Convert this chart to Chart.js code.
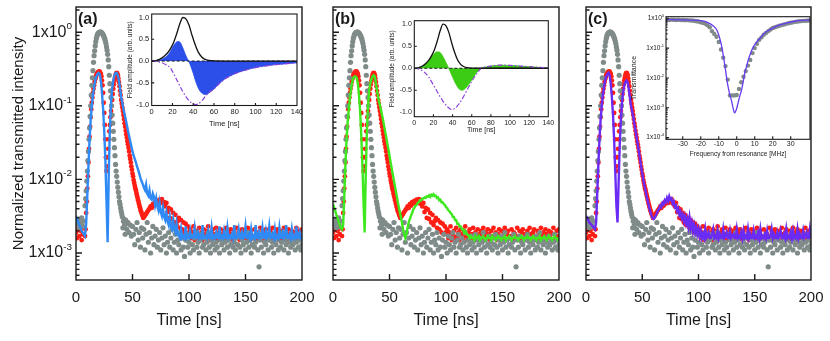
<!DOCTYPE html>
<html lang="en">
<head>
<meta charset="UTF-8">
<title>Transmitted intensity</title>
<script src="https://cdn.jsdelivr.net/npm/chart.js@4.4.0/dist/chart.umd.min.js"></script>
<style>
  body { margin: 0; background: #fff; }
  #wrap { position: relative; width: 830px; height: 341px; overflow: hidden; }
  #wrap canvas { position: absolute; }
</style>
</head>
<body>
<div id="wrap"></div>
<script>
// ---- main panels: 1 ns sampling, t = 0..200 ----
const grayY = [
  .0027,.0024,.0029,.0022,.0026,.0030,.0023,.0027,.0044,.0070,
  .013,.024,.05,.10,.19,.30,.48,.65,.82,.93,
  .98,1.0,1.0,.97,.92,.85,.76,.63,.50,.34,
  .20,.13,.075,.045,.027,.016,.011,.0078,.0058,.0046,
  .0037,.0031,.0027,.0024,.0028,.0021,.0026,.0019,.0024,.0017,
  .0023,.0018,.0013,.0021,.0026,.0015,.0019,.0012,.0022,.0016,
  .0021,.0011,.0018,.0026,.0014,.0019,.0010,.0016,.0023,.0013,
  .0017,.0021,.0012,.0015,.0019,.0011,.0016,.0022,.0013,.0017,
  .0010,.0014,.0019,.0012,.0016,.0021,.0011,.0014,.0018,.0010,
  .0015,.0013,.0019,.0011,.0016,.0012,.0009,.0015,.0018,.0012,
  .0014,.0010,.0017,.0013,.0011,.0016,.0019,.0012,.0014,.0010,
  .0015,.0018,.0012,.0013,.0016,.0011,.0014,.0019,.0012,.0010,
  .0015,.0013,.0017,.0011,.0014,.0012,.0018,.0010,.0015,.0013,
  .0016,.0011,.0014,.0019,.0012,.0015,.0010,.0013,.0017,.0012,
  .0014,.0011,.0016,.0013,.0018,.0012,.0010,.0015,.0013,.0017,
  .0011,.0014,.0019,.0012,.0015,.0010,.0013,.0016,.0012,.0014,
  .0018,.0011,.00065,.0015,.0012,.0017,.0010,.0014,.0013,.0016,
  .0011,.0015,.0018,.0012,.0014,.0010,.0016,.0013,.0015,.0011,
  .0017,.0012,.0014,.0019,.0011,.0015,.0013,.0016,.0010,.0014,
  .0012,.0017,.0013,.0015,.0011,.0014,.0018,.0012,.0015,.0011,
  .0013
];
const redY = [
  .0019,.0016,.0021,.0017,.0020,.0015,.0018,.0022,.0017,.0035,
  .0075,.017,.038,.07,.11,.15,.19,.23,.26,.28,
  .29,.29,.27,.22,.15,.08,.035,.013,.02,.035,
  .055,.085,.12,.17,.22,.26,.28,.26,.21,.16,
  .12,.095,.075,.058,.046,.037,.03,.024,.019,.015,
  .012,.0098,.0082,.0071,.006,.0052,.0045,.0039,.0035,.0032,
  .0031,.0032,.0034,.0036,.0038,.004,.0043,.0041,.0046,.0044,
  .0049,.0047,.0051,.0048,.0053,.005,.0054,.0047,.0049,.0043,
  .0048,.0036,.0041,.0030,.0039,.0029,.0035,.0026,.0033,.0024,
  .0027,.0030,.0022,.0028,.0021,.0026,.0019,.0025,.0018,.0023,
  .0019,
  .0021,.0016,.0019,.0023,.0015,.0018,.0020,.0016,.0022,.0017,
  .0019,.0015,.0021,.0018,.0016,.0020,.0023,.0017,.0015,.0019,
  .0021,.0016,.0018,.0022,.0015,.0019,.0017,.0021,.0016,.0018,
  .0020,.0015,.0022,.0017,.0019,.0016,.0021,.0018,.0015,.0020,
  .0017,.0022,.0016,.0019,.0015,.0018,.0021,.0017,.0020,.0016,
  .0019,.0022,.0015,.0018,.0020,.0016,.0017,.0021,.0015,.0019,
  .0018,.0016,.0022,.0017,.0020,.0015,.0019,.0021,.0016,.0018,
  .0017,.0020,.0015,.0022,.0018,.0016,.0019,.0021,.0017,.0015,
  .0020,.0018,.0016,.0022,.0017,.0019,.0015,.0021,.0018,.0016,
  .0020,.0017,.0019,.0015,.0022,.0018,.0016,.0020,.0017,.0021
];
// the measurements are denser than 1 ns: readings of the in-between samples where the pulse moves fast
const grayMidStart = 8.5;   // ns, then every 1 ns
const grayMidY = [
  .0055,.0095,.018,.035,.072,.14,.24,.39,.56,.74,
  .88,.96,.99,1.0,.99,.95,.89,.81,.70,.57,
  .42,.26,.16,.10,.058,.035,.021,.013,.0092,.0067,
  .0050,.0041,.0034,.0022,.0029,.0018,.0025
];
const redMidStart = 8.5;
const redMidY = [
  .0021,.005,.011,.026,.052,.09,.13,.17,.21,.245,
  .27,.285,.29,.28,.25,.19,.11,.055,.02,.015,
  .026,.045,.07,.10,.145,.195,.24,.275,.275,.235,
  .185,.14,.107,.085,.066,.052,.041,.033,.027,.021,
  .017,.0135,.011,.009,.0076,.0065,.0056,.0048,.0042,.0037,
  .0033,.0030
];
// model curves
const fitA = [
  .0032,.0029,.0026,.0024,.0022,.002,.0019,.0018,.0017,.0025,
  .006,.015,.035,.065,.10,.14,.18,.22,.25,.27,
  .28,.27,.22,.15,.09,.045,.018,.005,.0014,.012,
  .05,.11,.17,.22,.26,.28,.28,.26,.22,.17,
  .13,.11,.09,.076,.065,.055,.046,.039,.033,.028,
  .024,.021,.019,.017,.015,.0135,.012,.0105,.0095,.0087,
  .0078,.0072,.0085,.0064,.006,.0071,.0055,.0053,.0064,.0058,
  .0045,.0055,.0043,.0038,.0048,.0036,.0032,.0041,.0031,.0028,
  .0035,.0027,.0024,.0031,.0023,.0021,.0028,.0021,.0019,.0025,
  .0018,
  .0017,.0016,.0021,.0016,.0017,.0016,.0023,.0016,.0017,.0016,
  .0020,.0016,.0016,.0017,.0022,.0016,.0016,.0019,.0016,.0017,
  .0016,.0024,.0016,.0016,.0017,.0016,.0020,.0016,.0016,.0022,
  .0016,.0017,.0016,.0019,.0016,.0016,.0023,.0016,.0017,.0016,
  .0020,.0016,.0016,.0022,.0016,.0017,.0016,.0018,.0016,.0024,
  .0016,.0016,.0017,.0021,.0016,.0016,.0019,.0016,.0017,.0023,
  .0016,.0016,.0018,.0016,.0021,.0016,.0017,.0016,.0024,.0016,
  .0016,.0019,.0016,.0017,.0022,.0016,.0016,.0020,.0016,.0017,
  .0023,.0016,.0016,.0018,.0016,.0021,.0016,.0017,.0016,.0022,
  .0016,.0016,.0019,.0016,.0017,.0024,.0016,.0016,.0018,.0016,
  .0021,.0016,.0017,.0016,.0023,.0016,.0016,.0019,.0016,.0017
];
const fitB = [
  .0046,.0042,.0037,.0033,.003,.0027,.0024,.0022,.0021,.0024,
  .006,.016,.035,.06,.09,.13,.17,.21,.24,.25,
  .25,.24,.2,.14,.085,.04,.016,.005,.0019,.012,
  .045,.1,.16,.2,.23,.25,.26,.25,.2,.16,
  .13,.11,.095,.08,.068,.056,.046,.038,.031,.026,
  .021,.017,.014,.0115,.0095,.0078,.0064,.0053,.0044,.0037,
  .0031,.0026,.0021,.0018,.0016,.0018,.0022,.0026,.0029,.0032,
  .0035,.0039,.0041,.0044,.0045,.0048,.0049,.0052,.0052,.0055,
  .0055,.0057,.0056,.0059,.0058,.0061,.0058,.0062,.006,.0063,
  .0059,.006,.0056,.0057,.0052,.0053,.0049,.0049,.0046,.0045,
  .0042,.0041,.0038,.0037,.0035,.0034,.0031,.0031,.0028,.0028,
  .0025,.0025,.0023,.0023,.0021,.0021,.0019,.0020,.0018,.0018,
  .0017,
  .0016,.0017,.0016,.0016,.0015,.0017,.0016,.0016,.0017,.0015,
  .0016,.0016,.0017,.0016,.0015,.0016,.0017,.0016,.0016,.0015,
  .0017,.0016,.0016,.0015,.0016,.0017,.0016,.0016,.0015,.0016,
  .0016,.0017,.0015,.0016,.0016,.0017,.0016,.0015,.0016,.0016,
  .0017,.0016,.0016,.0015,.0016,.0016,.0017,.0016,.0015,.0016,
  .0016,.0017,.0016,.0016,.0015,.0016,.0017,.0016,.0016,.0015,
  .0016,.0016,.0017,.0015,.0016,.0016,.0017,.0016,.0015,.0016,
  .0017,.0016,.0016,.0015,.0016,.0017,.0016,.0016,.0015,.0016
];
const fitC = [
  .0032,.003,.0028,.0026,.0025,.0024,.0023,.0022,.0021,.0026,
  .0065,.016,.036,.065,.10,.14,.18,.22,.25,.27,
  .28,.26,.20,.13,.075,.035,.013,.0045,.0026,.009,
  .03,.065,.11,.15,.19,.21,.22,.21,.17,.13,
  .10,.085,.07,.057,.046,.037,.03,.024,.019,.015,
  .012,.0098,.0082,.0069,.0058,.005,.0043,.0037,.0033,.003,
  .0029,.003,.0032,.0035,.0038,.004,.0044,.0042,.0048,.0046,
  .0052,.0049,.0056,.0051,.0059,.0053,.0055,.0047,.005,.0042,
  .0044,.0037,.004,.0033,.0036,.003,.0033,.0027,.0031,.0025,
  .0029,.0023,.003,.0022,.0026,.002,.0024,.0019,.0022,.0018,
  .0021,
  .0017,.0020,.0016,.0018,.0016,.0021,.0016,.0017,.0019,.0016,
  .0016,.0018,.0021,.0016,.0017,.0016,.0020,.0016,.0018,.0016,
  .0016,.0021,.0016,.0017,.0019,.0016,.0016,.0020,.0016,.0017,
  .0018,.0016,.0016,.0021,.0016,.0017,.0016,.0019,.0016,.0020,
  .0016,.0017,.0016,.0021,.0016,.0018,.0016,.0016,.0020,.0016,
  .0017,.0016,.0019,.0016,.0021,.0016,.0017,.0016,.0018,.0016,
  .0020,.0016,.0016,.0017,.0021,.0016,.0018,.0016,.0016,.0019,
  .0016,.0017,.0020,.0016,.0016,.0018,.0016,.0021,.0016,.0017,
  .0016,.0019,.0016,.0020,.0016,.0017,.0016,.0021,.0016,.0018,
  .0016,.0016,.0020,.0016,.0017,.0019,.0016,.0016,.0021,.0016
];
const timeAxis = grayY.map((_, i) => i);   // ns
const grayMidT = grayMidY.map((_, i) => grayMidStart + i);
const redMidT = redMidY.map((_, i) => redMidStart + i);

// ---- insets (a), (b): field amplitudes ----
const inT = [0,4,8,12,15,18,21,24,27,30,33,36,39,42,45,48,51,55,60,70,140];
const inV = [0,.01,.045,.11,.18,.28,.42,.62,.85,1.0,.97,.82,.58,.37,.2,.1,.045,.015,.003,0,0];
const outAT = [0,4,8,12,15,18,21,24,26,28,30,32,34,36,38,40,42,44,46,48,50,52,54,57,60,65,70,75,80,90,100,110,120,130,140];
const outAV = [0,.005,.02,.07,.12,.22,.35,.44,.45,.41,.3,.18,.07,-.02,-.14,-.28,-.44,-.57,-.67,-.73,-.76,-.77,-.75,-.7,-.64,-.52,-.42,-.35,-.29,-.21,-.15,-.11,-.08,-.06,-.04];
const envAT = [0,5,10,14,18,22,26,30,34,38,42,45,48,52,56,60,65,70,75,80,90,100,110,120,130,140];
const envAV = [0,-.01,-.04,-.09,-.16,-.33,-.52,-.7,-.85,-.95,-1.0,-.98,-.92,-.8,-.7,-.64,-.52,-.42,-.35,-.29,-.21,-.15,-.11,-.08,-.06,-.04];
const outBT = [0,4,8,12,16,20,23,26,29,32,34,36,38,40,42,44,46,48,50,52,55,58,61,64,67,70,75,80,90,100,110,120,130,140];
const outBV = [0,.01,.04,.1,.2,.31,.37,.37,.3,.18,.09,0,-.1,-.2,-.3,-.38,-.45,-.49,-.5,-.48,-.42,-.33,-.23,-.13,-.05,0,.03,.05,.07,.065,.05,.035,.02,.01];
const envBT = [0,5,10,15,20,25,30,35,39,43,47,51,55,60,65,70,75,80,90,100,110,120,130,140];
const envBV = [0,-.02,-.08,-.2,-.38,-.57,-.75,-.88,-.94,-.9,-.8,-.66,-.5,-.3,-.13,0,.03,.05,.07,.065,.05,.035,.02,.01];
const zeroT = [0, 140], zeroV = [0, 0];

// ---- inset (c): transmittance vs detuning ----
const specF = [-38.75,-37.5,-36.25,-35,-33.75,-32.5,-31.25,-30,-28.75,-27.5,-26.25,-25,-23.75,-22.5,-21.25,-20,
  -18.75,-17.5,-16.25,-15,-13.75,-12.5,-11.25,-10,-8.75,-7.5,-6.25,-5,-3.75,-2.5,-1.25,0,
  1.25,2.5,3.75,5,6.25,7.5,8.75,10,11.25,12.5,13.75,15,16.25,17.5,18.75,20,
  21.25,22.5,23.75,25,26.25,27.5,28.75,30,31.25,32.5,33.75,35,36.25,37.5,38.75,40];
const specT = [.9,.88,.9,.89,.88,.89,.87,.88,.86,.87,.85,.84,.83,.8,.78,.74,
  .7,.65,.58,.5,.37,.3,.24,.16,.09,.048,.025,.0088,.0026,.0026,.0026,.0027,
  .0043,.0072,.011,.017,.026,.04,.068,.1,.14,.19,.23,.28,.32,.37,.42,.47,
  .5,.53,.56,.59,.62,.65,.68,.71,.73,.76,.78,.8,.81,.82,.83,.84];
const lorF = [-39.3,-30,-25,-20,-16,-13,-11,-9,-8,-6.5,-5.2,-4,-3,-2.2,-1.2,-0.3,0.9,1.8,2.7,3.6,4.5,5.5,6.4,8,9.2,11,12.9,14.5,16.6,20,24,28,33,37,40.7];
const lorT = [.9,.89,.87,.83,.72,.55,.4,.17,.088,.024,.0068,.003,.0018,.0011,.00068,.00085,.0016,.0026,.004,.0075,.015,.025,.04,.075,.11,.16,.21,.28,.36,.47,.6,.7,.81,.85,.87];

const FONT = '"Liberation Sans", Arial, sans-serif';
const INK = '#1a1a1a';
const GRAY = '#7f8b89', RED = '#ff1d14';

Chart.defaults.font.family = FONT;
Chart.defaults.color = INK;

function pts(xs, ys) { return ys.map((v, i) => ({ x: xs[i], y: v })); }
function fixW(w) { return s => { s.width = w; s.paddingLeft = s.paddingRight = s.paddingTop = s.paddingBottom = 0; }; }
function fixH(h) { return s => { s.height = h; s.paddingLeft = s.paddingRight = s.paddingTop = s.paddingBottom = 0; }; }
function setTicks(vals) { return s => { s.ticks = vals.map(v => ({ value: v })); }; }

// box, inward ticks, log labels with superscripts, panel letter
const frame = {
  id: 'frame',
  beforeDraw(chart, args, o) {
    if (!o.white) return;
    const a = chart.chartArea, ctx = chart.ctx;
    ctx.save();
    ctx.fillStyle = '#fff';
    ctx.fillRect(a.left, a.top, a.right - a.left, a.bottom - a.top);
    ctx.restore();
  },
  afterDraw(chart, args, o) {
    if (!o.major) return;
    const { ctx, chartArea: a } = chart;
    const x = chart.scales.x, y = chart.scales.y;
    ctx.save();
    ctx.strokeStyle = INK;
    ctx.lineWidth = o.lw;
    ctx.beginPath();
    (o.xTicks || []).forEach(v => {
      const p = x.getPixelForValue(v);
      ctx.moveTo(p, a.bottom); ctx.lineTo(p, a.bottom - o.major);
    });
    if (y.type === 'logarithmic') {
      for (let e = Math.floor(Math.log10(y.min)); e <= Math.ceil(Math.log10(y.max)); e++) {
        for (let m = 1; m <= 9; m++) {
          const v = m * Math.pow(10, e);
          if (v < y.min || v > y.max) continue;
          const p = y.getPixelForValue(v);
          ctx.moveTo(a.left, p); ctx.lineTo(a.left + (m === 1 ? o.major : o.minor), p);
        }
      }
    } else {
      (o.yTicks || []).forEach(v => {
        const p = y.getPixelForValue(v);
        ctx.moveTo(a.left, p); ctx.lineTo(a.left + o.major, p);
      });
    }
    ctx.stroke();
    ctx.strokeRect(a.left, a.top, a.right - a.left, a.bottom - a.top);

    ctx.fillStyle = INK;
    if (o.logFont) {
      const fs = o.logFont, small = fs * 0.62;
      for (let e = Math.ceil(Math.log10(y.min)); e <= Math.floor(Math.log10(y.max)); e++) {
        const p = y.getPixelForValue(Math.pow(10, e));
        const sup = e === 0 ? '0' : '-' + (-e);
        ctx.textBaseline = 'middle';
        ctx.textAlign = 'left';
        ctx.font = small + 'px ' + FONT;
        const w2 = ctx.measureText(sup).width;
        ctx.font = fs + 'px ' + FONT;
        const w1 = ctx.measureText('1x10').width;
        const xr = a.left - o.logPad;
        ctx.fillText('1x10', xr - w2 - w1, p);
        ctx.font = small + 'px ' + FONT;
        ctx.fillText(sup, xr - w2, p - fs * 0.36);
      }
    }
    if (o.tag) {
      ctx.font = 'bold 16px ' + FONT;
      ctx.textAlign = 'left';
      ctx.textBaseline = 'middle';
      ctx.fillText(o.tag, a.left + 2, a.top + 13);
    }
    ctx.restore();
  }
};
Chart.register(frame);

const wrap = document.getElementById('wrap');
function panel(box, area, datasets, scales, frameOpts) {
  const c = document.createElement('canvas');
  c.width = box.w; c.height = box.h;
  c.style.left = box.x + 'px'; c.style.top = box.y + 'px';
  c.style.width = box.w + 'px'; c.style.height = box.h + 'px';
  wrap.appendChild(c);
  scales.x.afterFit = fixH(box.y + box.h - area.b);
  scales.y.afterFit = fixW(area.l - box.x);
  return new Chart(c, {
    type: 'line',
    data: { datasets },
    options: {
      responsive: false, animation: false, devicePixelRatio: 1, events: [],
      layout: { padding: { top: area.t - box.y, right: box.x + box.w - area.r, left: 0, bottom: 0 } },
      plugins: { legend: { display: false }, tooltip: { enabled: false }, frame: frameOpts },
      scales
    }
  });
}

const noGrid = { display: false, drawTicks: false };
const dots = (xs, ys, color, r, order) =>
  ({ data: pts(xs, ys), showLine: false, pointRadius: r, backgroundColor: color, borderWidth: 0, order });

function mainPanel(box, area, tag, fit, color, yTitle) {
  const datasets = [
    { data: pts(timeAxis, fit), borderColor: color, borderWidth: 2.4, pointRadius: 0, order: 0 },
    dots(timeAxis, grayY, GRAY, 2.6, 1),
    dots(grayMidT, grayMidY, GRAY, 2.6, 1),
    dots(timeAxis, redY, RED, 2.4, 2),
    dots(redMidT, redMidY, RED, 2.4, 2)
  ];
  const scales = {
    x: {
      type: 'linear', min: 0, max: 200, grid: noGrid, border: { display: false },
      afterBuildTicks: setTicks([0, 50, 100, 150, 200]),
      ticks: { autoSkip: false, maxRotation: 0, padding: 9, font: { size: 15 } },
      title: { display: true, text: 'Time [ns]', font: { size: 16 }, padding: { top: 0, bottom: 11 } }
    },
    y: {
      type: 'logarithmic', min: 4.3e-4, max: 2.2, grid: noGrid, border: { display: false },
      ticks: { display: false },
      title: { display: yTitle, text: 'Normalized transmitted intensity', font: { size: 15 }, padding: { top: 10 } }
    }
  };
  return panel(box, area, datasets, scales, {
    lw: 1.4, major: 6, minor: 3.5, xTicks: [50, 100, 150], tag,
    logFont: yTitle ? 16 : 0, logPad: 4
  });
}

function fieldInset(box, area, outT, outV, fillColor, envT, envV, yMin, fs) {
  const datasets = [
    { data: pts(zeroT, zeroV), borderColor: INK, borderWidth: 1, borderDash: [3, 2], pointRadius: 0, order: 0 },
    { data: pts(envT, envV), borderColor: '#8b3fd9', borderWidth: 1.2, borderDash: [5, 2, 1.5, 2], pointRadius: 0, order: 1, cubicInterpolationMode: 'monotone' },
    { data: pts(inT, inV), borderColor: '#111', borderWidth: 1.3, pointRadius: 0, order: 2, cubicInterpolationMode: 'monotone' },
    { data: pts(outT, outV), borderColor: fillColor, borderWidth: 0.8, backgroundColor: fillColor, fill: 'origin', pointRadius: 0, order: 3, cubicInterpolationMode: 'monotone' }
  ];
  const scales = {
    x: {
      type: 'linear', min: 0, max: 140, grid: noGrid, border: { display: false },
      afterBuildTicks: setTicks([0, 20, 40, 60, 80, 100, 120, 140]),
      ticks: { autoSkip: false, maxRotation: 0, padding: 2, font: { size: fs } },
      title: { display: true, text: 'Time [ns]', font: { size: fs }, padding: { top: 0, bottom: 3 } }
    },
    y: {
      type: 'linear', min: yMin, max: 1.08, grid: noGrid, border: { display: false },
      afterBuildTicks: setTicks([-1, -0.5, 0, 0.5, 1]),
      ticks: { autoSkip: false, padding: 2.5, font: { size: fs }, callback: v => v.toFixed(1) },
      title: { display: true, text: 'Field amplitude (arb. units)', font: { size: 6.5 }, padding: { top: 8 } }
    }
  };
  return panel(box, area, datasets, scales, {
    white: true, lw: 1.1, major: 2.5, xTicks: [20, 40, 60, 80, 100, 120], yTicks: [-0.5, 0, 0.5]
  });
}

const mainBox = (x, w) => ({ x, y: 0, w, h: 341 });
mainPanel(mainBox(0, 318), { l: 76, r: 302, t: 7, b: 280 }, '(a)', fitA, '#2f8af5', true);
mainPanel(mainBox(318, 254), { l: 333, r: 559, t: 7, b: 280 }, '(b)', fitB, '#3de81e', false);
mainPanel(mainBox(572, 258), { l: 586, r: 811, t: 7, b: 280 }, '(c)', fitC, '#6a2cf5', false);

fieldInset({ x: 118, y: 6, w: 184, h: 125 }, { l: 151.7, r: 297, t: 14, b: 105.5 },
  outAT, outAV, '#2b4fe8', envAT, envAV, -1.02, 7.5);
fieldInset({ x: 380, y: 12, w: 174, h: 125 }, { l: 414.3, r: 548.3, t: 20.7, b: 116.7 },
  outBT, outBV, '#3ccc14', envBT, envBV, -1.1, 7);

// inset (c)
panel({ x: 626, y: 8, w: 198, h: 152 }, { l: 666, r: 810, t: 16.7, b: 139.3 }, [
  { data: pts(lorF, lorT), borderColor: '#6a3cf0', borderWidth: 1.3, pointRadius: 0, order: 0, cubicInterpolationMode: 'monotone' },
  dots(specF, specT, GRAY, 2.2, 1)
], {
  x: {
    type: 'linear', min: -39.3, max: 40.7, grid: noGrid, border: { display: false },
    afterBuildTicks: setTicks([-30, -20, -10, 0, 10, 20, 30]),
    ticks: { autoSkip: false, maxRotation: 0, padding: 1, font: { size: 7 } },
    title: { display: true, text: 'Frequency from resonance [MHz]', font: { size: 6.5 }, padding: { top: 0, bottom: 2 } }
  },
  y: {
    type: 'logarithmic', min: 8.8e-5, max: 1.13, grid: noGrid, border: { display: false },
    ticks: { display: false },
    title: { display: true, text: 'Transmittance', font: { size: 7 }, padding: { top: 4 } }
  }
}, { white: true, lw: 1.1, major: 3, minor: 1.6, xTicks: [-30, -20, -10, 0, 10, 20, 30], logFont: 6.5, logPad: 2 });
</script>
</body>
</html>
